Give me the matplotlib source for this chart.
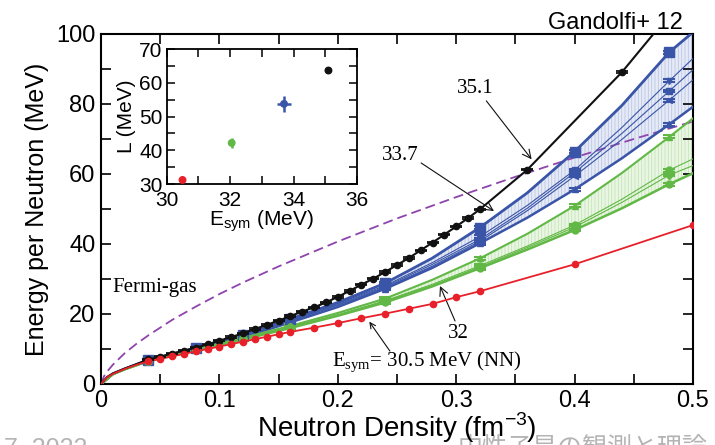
import matplotlib
matplotlib.use("Agg")
import matplotlib.pyplot as plt
from matplotlib.ticker import MultipleLocator

plt.rcParams['font.family'] = ['Liberation Sans', 'DejaVu Sans']
plt.rcParams['hatch.linewidth'] = 0.6

# Fermi gas curve
fg_n = [0.0, 0.0025, 0.005, 0.01, 0.02, 0.03, 0.04, 0.06, 0.08, 0.10, 0.12, 0.15,
        0.20, 0.25, 0.30, 0.35, 0.40, 0.45, 0.50]
fg_e = [0.0, 2.2, 3.5, 5.5, 8.8, 11.5, 13.9, 18.3, 22.1, 25.7, 29.0, 33.6,
        40.7, 47.3, 53.4, 59.2, 64.7, 70.0, 75.0]

# Esym = 35.1 MeV
black_n = [0.0, 0.005, 0.01, 0.02, 0.03,
           0.04, 0.05, 0.06, 0.07, 0.08, 0.09, 0.10, 0.11, 0.12, 0.13, 0.14, 0.15,
           0.16, 0.17, 0.18, 0.19, 0.20, 0.21, 0.22, 0.23, 0.24, 0.25, 0.26, 0.27,
           0.28, 0.29, 0.30, 0.31, 0.32, 0.36, 0.44, 0.48]
black_e = [0.0, 2.0, 3.0, 4.4, 5.7,
           7.0, 7.8, 8.7, 9.5, 10.4, 11.3, 12.4, 13.4, 14.5, 15.7, 16.9, 18.1,
           19.4, 20.7, 21.9, 23.3, 24.9, 26.6, 28.4, 30.1, 32.0, 34.0, 36.0, 38.2,
           40.4, 42.7, 45.0, 47.4, 49.9, 61.2, 89.1, 105.5]

# Esym = 30.5 MeV (NN only)
red_n = [0.0, 0.005, 0.01, 0.02, 0.03,
         0.04, 0.05, 0.06, 0.07, 0.08, 0.09, 0.10, 0.11, 0.12, 0.13, 0.14, 0.15, 0.16,
         0.18, 0.20, 0.22, 0.24, 0.26, 0.28, 0.30, 0.32, 0.40, 0.50]
red_e = [0.0, 1.9, 2.9, 4.3, 5.5,
         6.5, 7.2, 7.9, 8.6, 9.3, 10.0, 10.7, 11.4, 12.1, 12.8, 13.5, 14.2, 14.9,
         16.1, 17.4, 18.8, 20.1, 21.5, 22.9, 24.8, 26.5, 34.2, 45.4]

# Esym = 33.7 and 32 MeV bands (several three-body forces)
band_n = [0.0, 0.01, 0.02, 0.04, 0.08, 0.12, 0.16, 0.20, 0.24, 0.28, 0.32, 0.36,
          0.40, 0.44, 0.48, 0.50]
band_marks = [3, 4, 5, 6, 8, 10, 12, 14]

blue_up = [0.0, 2.9, 4.3, 6.8, 10.3, 13.9, 18.6, 23.3, 28.8, 36.0, 44.7, 54.6,
           66.4, 79.6, 94.8, 100.5]
blue_in1 = [0.0, 2.9, 4.3, 6.8, 10.2, 13.8, 18.3, 23.0, 28.1, 34.7, 42.1, 51.0,
            61.1, 73.3, 86.6, 93.0]
blue_in2 = [0.0, 2.9, 4.3, 6.7, 10.1, 13.6, 18.1, 22.7, 27.8, 34.2, 41.3, 50.2,
            60.4, 71.6, 83.7, 89.8]
blue_in3 = [0.0, 2.9, 4.3, 6.7, 10.1, 13.5, 18.0, 22.5, 27.5, 33.7, 40.8, 49.5,
            59.4, 69.9, 81.1, 86.9]
blue_lo = [0.0, 2.9, 4.3, 6.6, 10.0, 13.3, 17.6, 22.0, 27.2, 33.2, 40.2, 47.5,
           55.6, 64.5, 74.2, 79.2]

green_up = [0.0, 2.8, 4.2, 6.6, 9.9, 13.2, 16.6, 20.3, 24.4, 29.8, 35.9, 42.9,
            50.9, 60.3, 70.6, 75.9]
green_in1 = [0.0, 2.8, 4.2, 6.5, 9.8, 13.0, 16.3, 19.8, 23.8, 28.5, 33.8, 39.4,
             45.4, 52.8, 61.1, 64.3]
green_in2 = [0.0, 2.8, 4.2, 6.5, 9.7, 12.9, 16.2, 19.7, 23.6, 28.2, 33.4, 39.0,
             44.8, 51.9, 59.7, 62.4]
green_lo = [0.0, 2.8, 4.2, 6.5, 9.6, 12.7, 16.0, 19.5, 23.3, 27.9, 33.1, 38.4,
            44.0, 50.2, 57.1, 60.2]

# inset: L vs Esym
esym = [30.5, 32.05, 33.7, 35.1]
slope_l = [31.2, 42.2, 53.8, 63.7]
slope_err = [0.0, 1.5, 2.3, 0.0]
esym_err = [0.0, 0.05, 0.22, 0.0]

BLACK = '#111111'
RED = '#e8202a'
BLUE = '#3a55a8'
GREEN = '#62b846'
PURPLE = '#8e44ad'

fig = plt.figure(figsize=(7.15, 4.45), dpi=100)
ax = fig.add_axes([0.1413, 0.1371, 0.8279, 0.7865])


def sel(vals, idx):
    return [vals[i] for i in idx]


# bands with vertical hatching
ax.fill_between(band_n, blue_lo, blue_up, facecolor='#e6eaf6', edgecolor='#bcc7e6',
                hatch='|||||', linewidth=0, zorder=1)
ax.fill_between(band_n, green_lo, green_up, facecolor='#eaf6e4', edgecolor='#c6e6b8',
                hatch='|||||', linewidth=0, zorder=1)

band_curves = [
    (blue_up, BLUE, 2.0, 's', 6.5),
    (blue_in1, BLUE, 0.8, 'v', 4.5),
    (blue_in2, BLUE, 0.8, 's', 4.5),
    (blue_in3, BLUE, 0.8, '<', 4.5),
    (blue_lo, BLUE, 1.8, '^', 4.5),
    (green_up, GREEN, 1.5, '^', 4.0),
    (green_in1, GREEN, 0.8, 'o', 5.0),
    (green_in2, GREEN, 0.8, 'D', 4.0),
    (green_lo, GREEN, 1.8, 'o', 5.0),
]
for vals, col, lw, mk, ms in band_curves:
    ax.plot(band_n, vals, color=col, lw=lw, zorder=3)
    ax.errorbar(sel(band_n, band_marks), sel(vals, band_marks), yerr=0.4,
                fmt=mk, ms=ms, color=col, ecolor=col, elinewidth=1.2,
                capsize=4.5, capthick=1.5, zorder=4)

# Fermi gas
ax.plot(fg_n, fg_e, color=PURPLE, lw=1.3, dashes=(5.5, 2.8), zorder=2)

# black and red curves
ax.plot(black_n, black_e, color=BLACK, lw=1.5, zorder=5)
ax.errorbar(black_n[5:-1], black_e[5:-1], yerr=0.2, fmt='o', ms=4.5, color=BLACK,
            elinewidth=1.0, capsize=4, capthick=1.3, zorder=6)
ax.plot(red_n, red_e, color=RED, lw=1.3, zorder=5)
ax.errorbar(red_n[5:], red_e[5:], yerr=0.2, fmt='o', ms=4.5, color=RED,
            elinewidth=1.0, capsize=2.5, capthick=1.0, zorder=6)

ax.set_xlim(0, 0.5)
ax.set_ylim(0, 100)
ax.xaxis.set_major_locator(MultipleLocator(0.1))
ax.xaxis.set_minor_locator(MultipleLocator(0.05))
ax.yaxis.set_major_locator(MultipleLocator(20))
ax.yaxis.set_minor_locator(MultipleLocator(10))
ax.xaxis.set_major_formatter(plt.FuncFormatter(lambda v, p: '0' if v == 0 else f'{v:.1f}'))
ax.tick_params(which='both', direction='in', top=True, right=True, width=1.2,
               labelsize=17)
ax.tick_params(which='major', length=7, pad=4)
ax.tick_params(which='minor', length=7)
for s in ax.spines.values():
    s.set_linewidth(1.5)
ax.set_xlabel('Neutron Density (fm$^{\\mathregular{-3}}$)', fontsize=20, labelpad=-1)
ax.set_ylabel('Energy per Neutron (MeV)', fontsize=18, labelpad=5)

# annotations
serif = ['Liberation Serif', 'DejaVu Serif']
ax.text(0.010, 27.7, 'Fermi-gas', family=serif, fontsize=15, va='center', ha='left')
arrow = dict(arrowstyle='->', color=BLACK, lw=0.8, shrinkA=0, shrinkB=0)
ax.annotate('35.1', xy=(0.3637, 64.2), xytext=(0.3159, 84.4), family=serif,
            fontsize=15, ha='center', va='center',
            arrowprops=dict(arrow, relpos=(0.75, 0.0)))
ax.annotate('33.7', xy=(0.3319, 49.4), xytext=(0.2525, 65.3), family=serif,
            fontsize=15, ha='center', va='center',
            arrowprops=dict(arrow, relpos=(1.0, 0.2)))
ax.annotate('32', xy=(0.2863, 28.0), xytext=(0.3018, 14.5), family=serif,
            fontsize=15, ha='center', va='center',
            arrowprops=dict(arrow, relpos=(0.4, 1.0)))
ax.annotate('', xy=(0.2266, 17.8), xytext=(0.244, 9.4), arrowprops=arrow)
ax.text(0.1949, 4.9, 'E$_{\\mathregular{sym}}$= 30.5 MeV (NN)', family=serif,
        fontsize=15, ha='left', va='baseline')

fig.text(0.955, 0.935, 'Gandolfi+ 12', fontsize=17, ha='right', va='baseline')

# inset
axi = fig.add_axes([0.2331, 0.5865, 0.2662, 0.3027])
axi.errorbar(esym, slope_l, yerr=slope_err, xerr=esym_err, fmt='none',
             ecolor=[RED, GREEN, BLUE, BLACK], elinewidth=1.8)
axi.scatter(esym, slope_l, c=[RED, GREEN, BLUE, BLACK], s=22, zorder=3)
axi.set_xlim(30, 36)
axi.set_ylim(30, 70)
axi.xaxis.set_major_locator(MultipleLocator(2))
axi.xaxis.set_minor_locator(MultipleLocator(1))
axi.yaxis.set_major_locator(MultipleLocator(10))
axi.yaxis.set_minor_locator(MultipleLocator(5))
axi.tick_params(which='both', direction='in', top=True, right=True, width=1.1,
                labelsize=15, pad=3)
axi.tick_params(axis='x', pad=5)
axi.tick_params(which='major', length=6)
axi.tick_params(which='minor', length=6)
for s in axi.spines.values():
    s.set_linewidth(1.3)
axi.set_xlabel('E$_{\\mathregular{sym}}$ (MeV)', fontsize=15, labelpad=-1)
axi.set_ylabel('L (MeV)', fontsize=15, labelpad=2)

# footer of the slide
fig.text(0.006, -0.024, '7, 2022', fontsize=18, color='#b4b4b4', zorder=-1)
fig.text(0.640, -0.024, '中性子星の観測と理論', fontsize=18, color='#b4b4b4',
         family=['Noto Sans CJK JP', 'DejaVu Sans'], zorder=-1)

fig.savefig('out.png', dpi=100)
